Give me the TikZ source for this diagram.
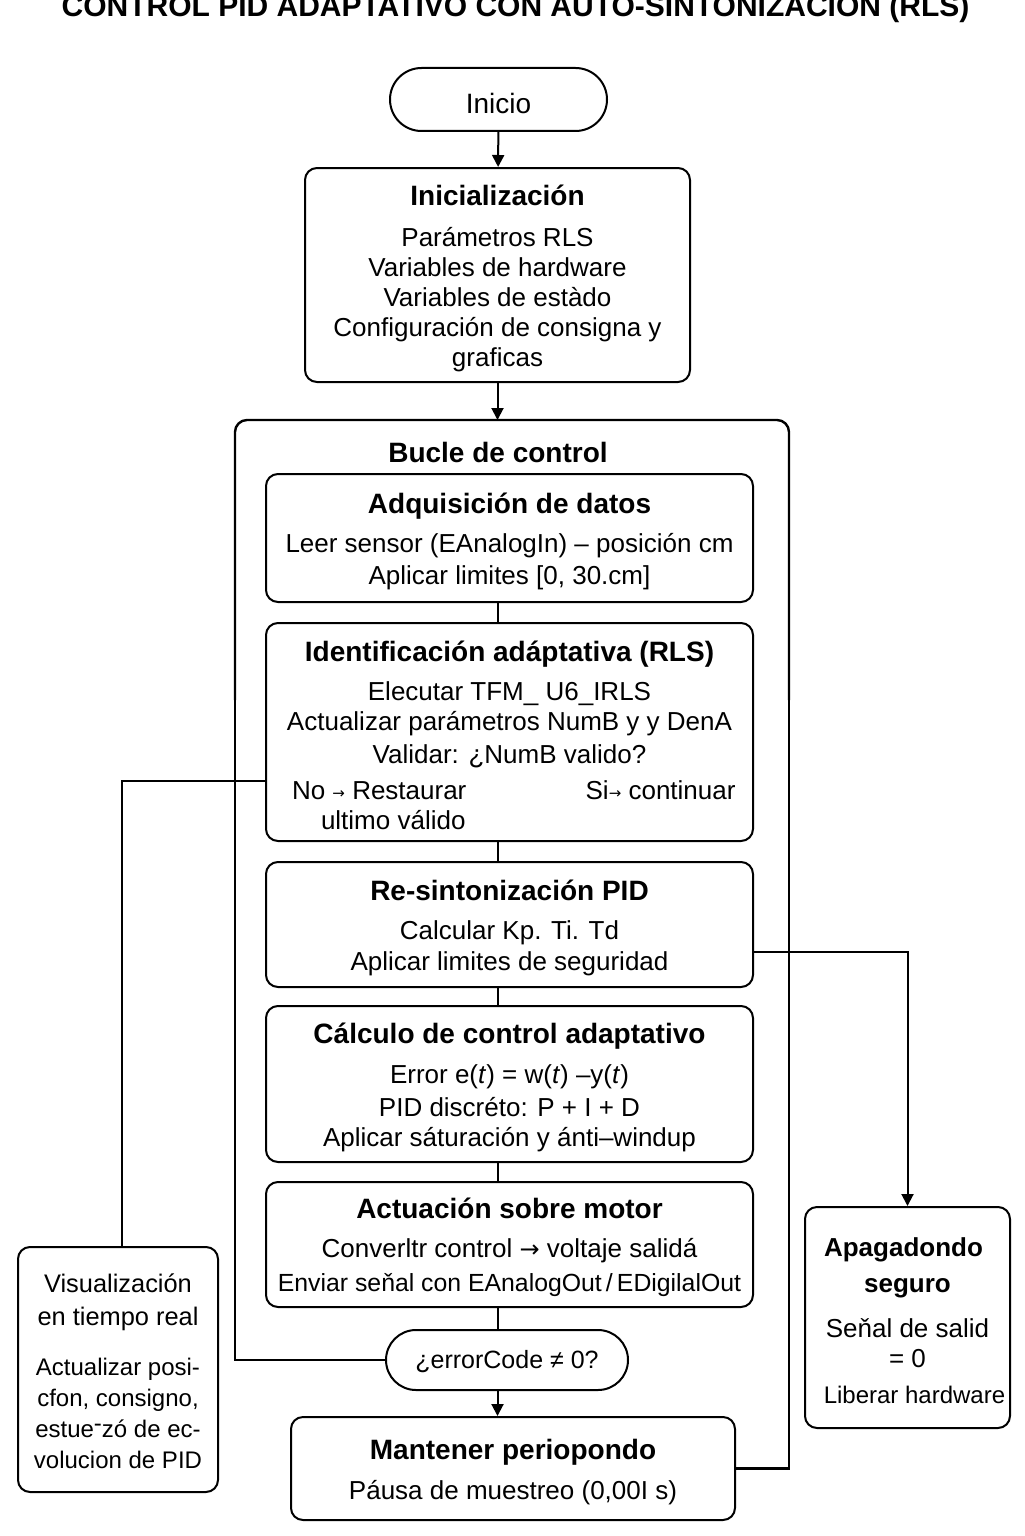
\documentclass[tikz,border=0pt]{standalone}
\usepackage{fontspec}
\setmainfont{Liberation Sans}
\newfontfamily\arrfont{DejaVu Sans}
\usetikzlibrary{arrows.meta,shapes.misc}
\newcommand\boxtitle[1]{{\fontsize{14}{15}\selectfont\bfseries\rule{0pt}{13.5pt}#1}}
\newcommand\smallarr{\raisebox{0.5pt}{\arrfont\fontsize{7.5}{9}\selectfont →}}
\newcommand\bigarr{{\arrfont\fontsize{12}{15}\selectfont →}}
\begin{document}
\begin{tikzpicture}[x=0.5pt,y=-0.5pt,
  box/.style={draw,line width=1pt,rounded corners=6pt,align=center,inner sep=0pt,
    font=\fontsize{13}{15}\selectfont},
  pill/.style={draw,line width=1pt,rounded rectangle,align=center,inner sep=0pt},
  conn/.style={line width=1pt},
  arr/.style={line width=1pt,-{Triangle[length=6pt,width=6pt]}},
  cont/.style={line width=1.2pt},
  lbl/.style={inner sep=0pt,align=center}]
\useasboundingbox (0,0) rectangle (1024,1536);

% title (partly cut at the top edge, as in the reference)
\node[lbl,anchor=base,font=\fontsize{15}{16}\selectfont\bfseries] (title) at (515.5,17)
  {CONTROL PID ADAPTATIVO CON AUTO-SINTONIZACIÓN (RLS)};

\node[pill,minimum width=108.5pt,minimum height=31.5pt,font=\fontsize{14}{15}\selectfont] (inicio) at (498.5,99.5) {\rule{0pt}{14pt}Inicio};

\node[box,minimum width=192.5pt,minimum height=107pt] (init) at (497.5,275)
  {\boxtitle{Inicialización}\\[5.5pt]
   Parámetros RLS\\
   Variables de hardware\\
   Variables de estàdo\\
   Configuración de consigna y\\
   graficas};

\coordinate (conttop) at (497.5,420);
\node[lbl,font=\fontsize{14}{15}\selectfont\bfseries] (bucle) at (498,452) {Bucle de control};

\node[box,minimum width=243.5pt,minimum height=64pt] (adq) at (509.5,538)
  {\boxtitle{Adquisición de datos}\\[4.5pt]
   Leer sensor (EAnalogIn) – posición cm\\[1pt]
   Aplicar limites [0, 30.cm]};

\node[box,minimum width=243.5pt,minimum height=109pt] (ident) at (509.5,732)
  {\boxtitle{Identificación adáptativa (RLS)}\\[4.5pt]
   Elecutar TFM\_ U6\_IRLS\\
   Actualizar parámetros NumB y y DenA\\[1.5pt]
   Validar: ¿NumB valido?\\[3pt]
   \parbox[t]{115pt}{\raggedright\hspace*{6.25pt}No \smallarr{} Restaurar\\\hspace*{20.75pt}ultimo válido}%
   \parbox[t]{115pt}{\raggedleft Si\smallarr{} continuar\hspace*{2pt}}};

\node[box,minimum width=243.5pt,minimum height=62.5pt] (resint) at (509.5,924.5)
  {\boxtitle{Re-sintonización PID}\\[4.5pt]
   Calcular Kp. Ti. Td\\[0.5pt]
   Aplicar limites de seguridad};

\node[box,minimum width=243.5pt,minimum height=78pt] (calc) at (509.5,1084)
  {\boxtitle{Cálculo de control adaptativo}\\[5pt]
   Error e(\textit{t}) = w(\textit{t}) –y(\textit{t})\\[1.5pt]
   PID discréto: P + I + D\\
   Aplicar sáturación y ánti–windup};

\node[box,minimum width=243.5pt,minimum height=62.5pt] (act) at (509.5,1244.5)
  {\boxtitle{Actuación sobre motor}\\[4.5pt]
   Converltr control \bigarr{} voltaje salidá\\[2pt]
   {\fontsize{12.4}{15}\selectfont Enviar seňal con EAnalogOut\,/\,EDigilalOut}};

\node[pill,minimum width=121pt,minimum height=30pt,font=\fontsize{12.5}{15}\selectfont] (err) at (507,1360)
  {\rule{0pt}{10.5pt}¿errorCode ≠ 0?};

\node[box,minimum width=222pt,minimum height=51.5pt] (mant) at (513,1468.5)
  {\boxtitle{Mantener periopondo}\\[5pt]
   Páusa de muestreo (0,00I s)};

\node[box,minimum width=100pt,minimum height=122.5pt,font=\fontsize{12}{15.5}\selectfont] (visu) at (118,1369.5)
  {{\fontsize{12.7}{15.5}\selectfont\rule{0pt}{11pt}Visualización}\\[1pt]
   {\fontsize{12.7}{15.5}\selectfont en tiempo real}\\[9.5pt]
   Actualizar posi-\\
   cfon, consigno,\\
   estue\raisebox{0.45ex}{-}zó de ec-\\
   volucion de PID};

\node[box,minimum width=102.5pt,minimum height=110.5pt] (apag) at (907.5,1317.5)
  {{\bfseries\rule{0pt}{12.5pt}Apagadondo\hspace*{4pt}}\\[3pt]
   {\bfseries seguro}\\[7.5pt]
   Seňal de salid\\
   = 0\\[3pt]
   {\fontsize{12}{15}\selectfont\hspace*{7pt}Liberar hardware}};

% main flow
\draw[arr] (inicio) -- (init);
\draw[arr] (init) -- (conttop);
\draw[conn] (adq.south -| init.south) -- (ident.north -| init.south);
\draw[conn] (ident.south -| init.south) -- (resint.north -| init.south);
\draw[conn] (resint.south -| init.south) -- (calc.north -| init.south);
\draw[conn] (calc.south -| init.south) -- (act.north -| init.south);
\draw[conn] (act.south -| init.south) -- (err.north -| init.south);
\draw[arr] (err.south -| init.south) -- (mant.north -| init.south);

% loop container
\draw[cont,rounded corners=6pt] (235,700) -- (conttop -| 235,0) -- (conttop -| 789,0) -- (789,700);
\draw[cont] (err.west) -- (err.west -| 235,0) -- (235,700);
\draw[cont] (789,700) -- (mant.east -| 789,0) -- (mant.east);

% side branches
\draw[conn] (ident.west |- 0,781) -| ([xshift=2pt]visu.north);
\draw[arr] (resint.east |- 0,952) -| (apag.north);
\end{tikzpicture}
\end{document}
